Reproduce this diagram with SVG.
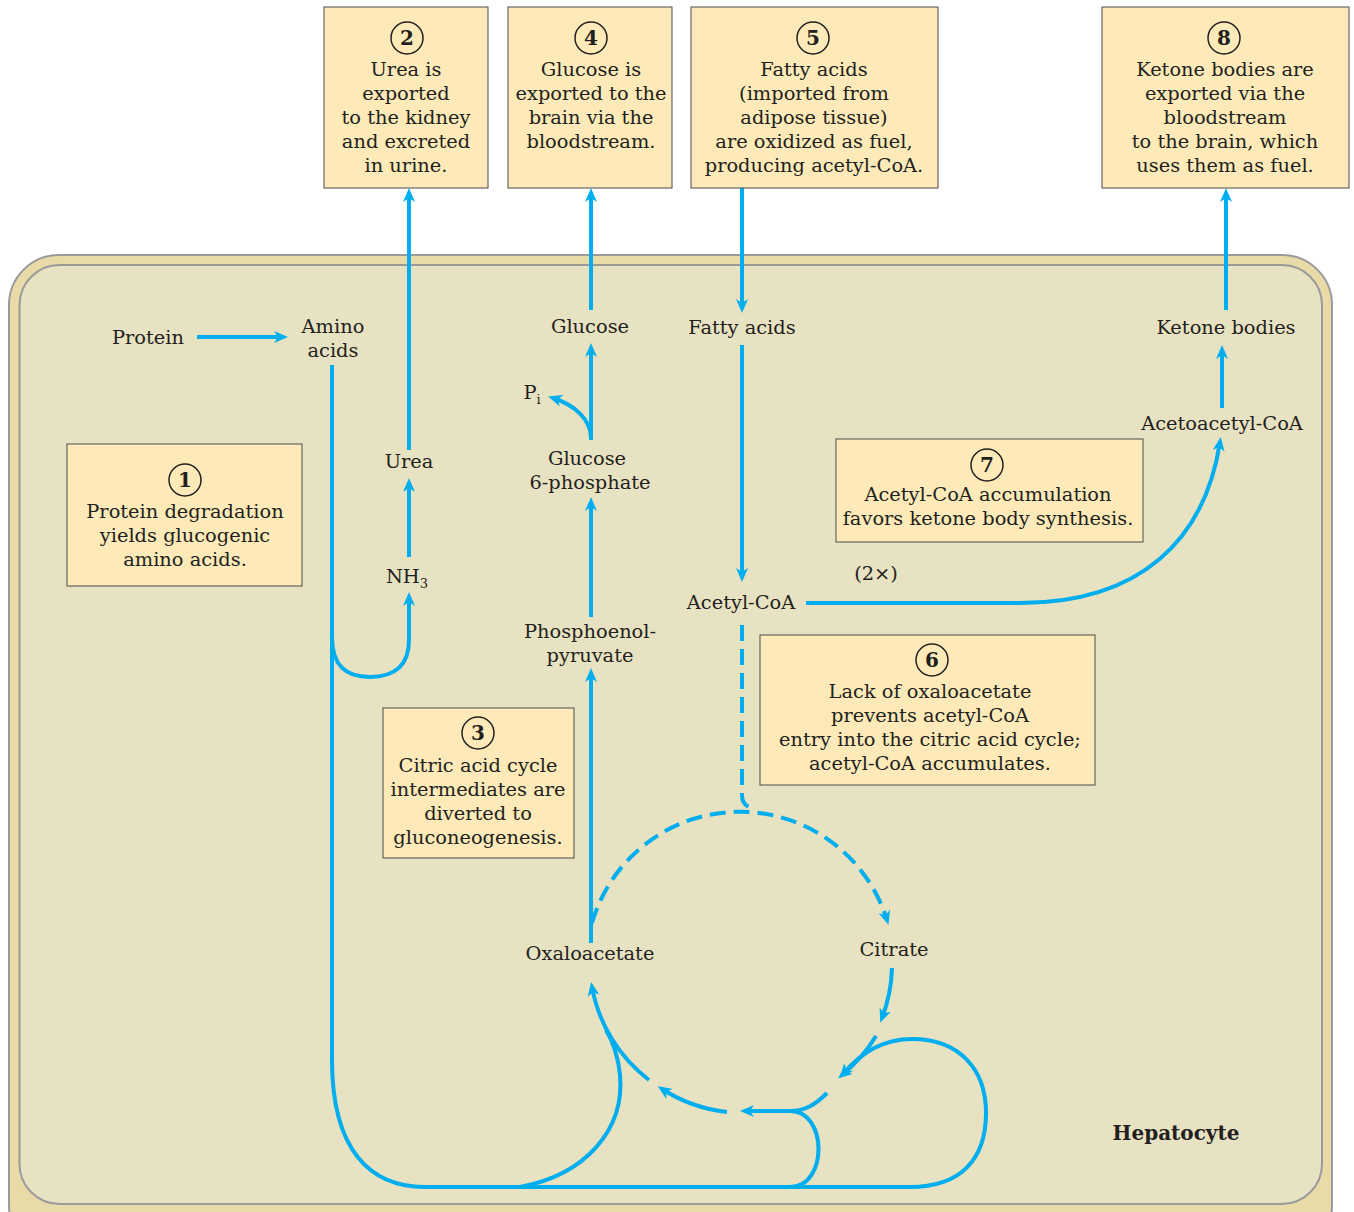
<svg xmlns="http://www.w3.org/2000/svg" width="1354" height="1212" viewBox="0 0 1354 1212">
<defs>
<marker id="ah" viewBox="0 0 14 12" refX="9" refY="6" markerWidth="14" markerHeight="12" markerUnits="userSpaceOnUse" orient="auto">
<path d="M0,0 L14,6 L0,12 L4,6 z" fill="#00aeef"/>
</marker>
<style>
text{font-family:"DejaVu Serif","Liberation Serif",serif;font-size:19.4px;fill:#231f20;text-anchor:middle}
.b{font-weight:bold}
.n{font-weight:bold;font-size:20px}
.box{fill:#fdeab8;stroke:#4a4a4a;stroke-width:1}
.num{fill:none;stroke:#231f20;stroke-width:1.5}
.ln{fill:none;stroke:#00aeef;stroke-width:4}
.ar{marker-end:url(#ah)}
.d{stroke-dasharray:16 8}
</style>
</defs>
<rect width="1354" height="1212" fill="#ffffff"/>
<g id="cell">
<rect x="9" y="255" width="1323" height="1000" rx="50" fill="#e9dba8" stroke="#9a9a9a" stroke-width="2"/>
<rect x="19.5" y="265" width="1302.5" height="939" rx="40" fill="#e7e2c1" stroke="#9a9a9a" stroke-width="2"/>
<text x="1176" y="1140" class="b" style="font-size:20px">Hepatocyte</text>
</g>
<g id="connectors">
<path class="ln ar" d="M197 337 H283"/>
<path class="ln ar" d="M332 365 V1060 C332 1150 370 1187 425 1187 H910 C960 1187 986 1160 986 1113 C986 1068 958 1039 912 1039 C880 1039 858 1056 843 1074"/>
<path class="ln ar" d="M332 637 C332 665 345 677 370 677 C395 677 409 665 409 640 V597"/>
<path class="ln ar" d="M409 557 V483"/>
<path class="ln ar" d="M409 450 V193"/>
<path class="ln ar" d="M591 310 V193"/>
<path class="ln ar" d="M591 440 V348"/>
<path class="ln ar" d="M591 438 C591 420 575 405 553 398"/>
<path class="ln ar" d="M591 617 V502"/>
<path class="ln ar" d="M591 943 V673"/>
<path class="ln ar" d="M742 188 V308"/>
<path class="ln ar" d="M742 345 V577"/>
<path class="ln d" d="M742 625 V795 C742 804 747 808 756 808"/>
<path class="ln d ar" d="M592 923 A154 154 0 0 1 887 920"/>
<path class="ln ar" d="M806 603 H1020 C1140 603 1205 540 1220 442"/>
<path class="ln ar" d="M1222 408 V350"/>
<path class="ln ar" d="M1226 310 V193"/>
<path class="ln ar" d="M892 968 A151 151 0 0 1 882 1018"/>
<path class="ln ar" d="M876 1036 A151 151 0 0 1 842 1075"/>
<path class="ln ar" d="M827 1093 C815 1105 805 1111 790 1111 H745"/>
<path class="ln ar" d="M727 1112 A151 151 0 0 1 662 1089"/>
<path class="ln ar" d="M649 1080 A151 151 0 0 1 592 987"/>
<path class="ln" d="M520 1187 C585 1175 625 1130 620 1075 C618 1055 612 1040 606 1030"/>
<path class="ln" d="M790 1187 C828 1187 828 1111 790 1111"/>
</g>
<g id="labels">
<text x="148" y="344">Protein</text>
<text x="333" y="333">Amino</text>
<text x="333" y="357">acids</text>
<text x="409" y="468">Urea</text>
<text x="407" y="583">NH<tspan font-size="13" dy="5">3</tspan></text>
<text x="532" y="399">P<tspan font-size="13" dy="5">i</tspan></text>
<text x="590" y="333">Glucose</text>
<text x="587" y="465">Glucose</text>
<text x="590" y="489">6-phosphate</text>
<text x="590" y="638">Phosphoenol-</text>
<text x="590" y="662">pyruvate</text>
<text x="590" y="960">Oxaloacetate</text>
<text x="894" y="956">Citrate</text>
<text x="742" y="334">Fatty acids</text>
<text x="741" y="609">Acetyl-CoA</text>
<text x="876" y="580">(2×)</text>
<text x="1226" y="334">Ketone bodies</text>
<text x="1222" y="430">Acetoacetyl-CoA</text>
</g>
<g id="box1">
<rect class="box" x="67" y="444" width="235" height="142"/>
<circle class="num" cx="185" cy="480" r="16"/>
<text x="185" y="487" class="n">1</text>
<text x="185" y="518">Protein degradation</text>
<text x="185" y="542">yields glucogenic</text>
<text x="185" y="566">amino acids.</text>
</g>
<g id="box2">
<rect class="box" x="324" y="7" width="164" height="181"/>
<circle class="num" cx="407" cy="38" r="16"/>
<text x="407" y="45" class="n">2</text>
<text x="406" y="76">Urea is</text>
<text x="406" y="100">exported</text>
<text x="406" y="124">to the kidney</text>
<text x="406" y="148">and excreted</text>
<text x="406" y="172">in urine.</text>
</g>
<g id="box3">
<rect class="box" x="383" y="708" width="191" height="150"/>
<circle class="num" cx="478" cy="733" r="16"/>
<text x="478" y="740" class="n">3</text>
<text x="478" y="772">Citric acid cycle</text>
<text x="478" y="796">intermediates are</text>
<text x="478" y="820">diverted to</text>
<text x="478" y="844">gluconeogenesis.</text>
</g>
<g id="box4">
<rect class="box" x="508" y="7" width="164" height="181"/>
<circle class="num" cx="591" cy="38" r="16"/>
<text x="591" y="45" class="n">4</text>
<text x="591" y="76">Glucose is</text>
<text x="591" y="100">exported to the</text>
<text x="591" y="124">brain via the</text>
<text x="591" y="148">bloodstream.</text>
</g>
<g id="box5">
<rect class="box" x="691" y="7" width="247" height="181"/>
<circle class="num" cx="813" cy="38" r="16"/>
<text x="813" y="45" class="n">5</text>
<text x="814" y="76">Fatty acids</text>
<text x="814" y="100">(imported from</text>
<text x="814" y="124">adipose tissue)</text>
<text x="814" y="148">are oxidized as fuel,</text>
<text x="814" y="172">producing acetyl-CoA.</text>
</g>
<g id="box6">
<rect class="box" x="760" y="635" width="335" height="150"/>
<circle class="num" cx="932" cy="660" r="16"/>
<text x="932" y="667" class="n">6</text>
<text x="930" y="698">Lack of oxaloacetate</text>
<text x="930" y="722">prevents acetyl-CoA</text>
<text x="930" y="746">entry into the citric acid cycle;</text>
<text x="930" y="770">acetyl-CoA accumulates.</text>
</g>
<g id="box7">
<rect class="box" x="836" y="439" width="307" height="103"/>
<circle class="num" cx="987" cy="465" r="16"/>
<text x="987" y="472" class="n">7</text>
<text x="988" y="501">Acetyl-CoA accumulation</text>
<text x="988" y="525">favors ketone body synthesis.</text>
</g>
<g id="box8">
<rect class="box" x="1102" y="7" width="247" height="181"/>
<circle class="num" cx="1224" cy="38" r="16"/>
<text x="1224" y="45" class="n">8</text>
<text x="1225" y="76">Ketone bodies are</text>
<text x="1225" y="100">exported via the</text>
<text x="1225" y="124">bloodstream</text>
<text x="1225" y="148">to the brain, which</text>
<text x="1225" y="172">uses them as fuel.</text>
</g>
</svg>
